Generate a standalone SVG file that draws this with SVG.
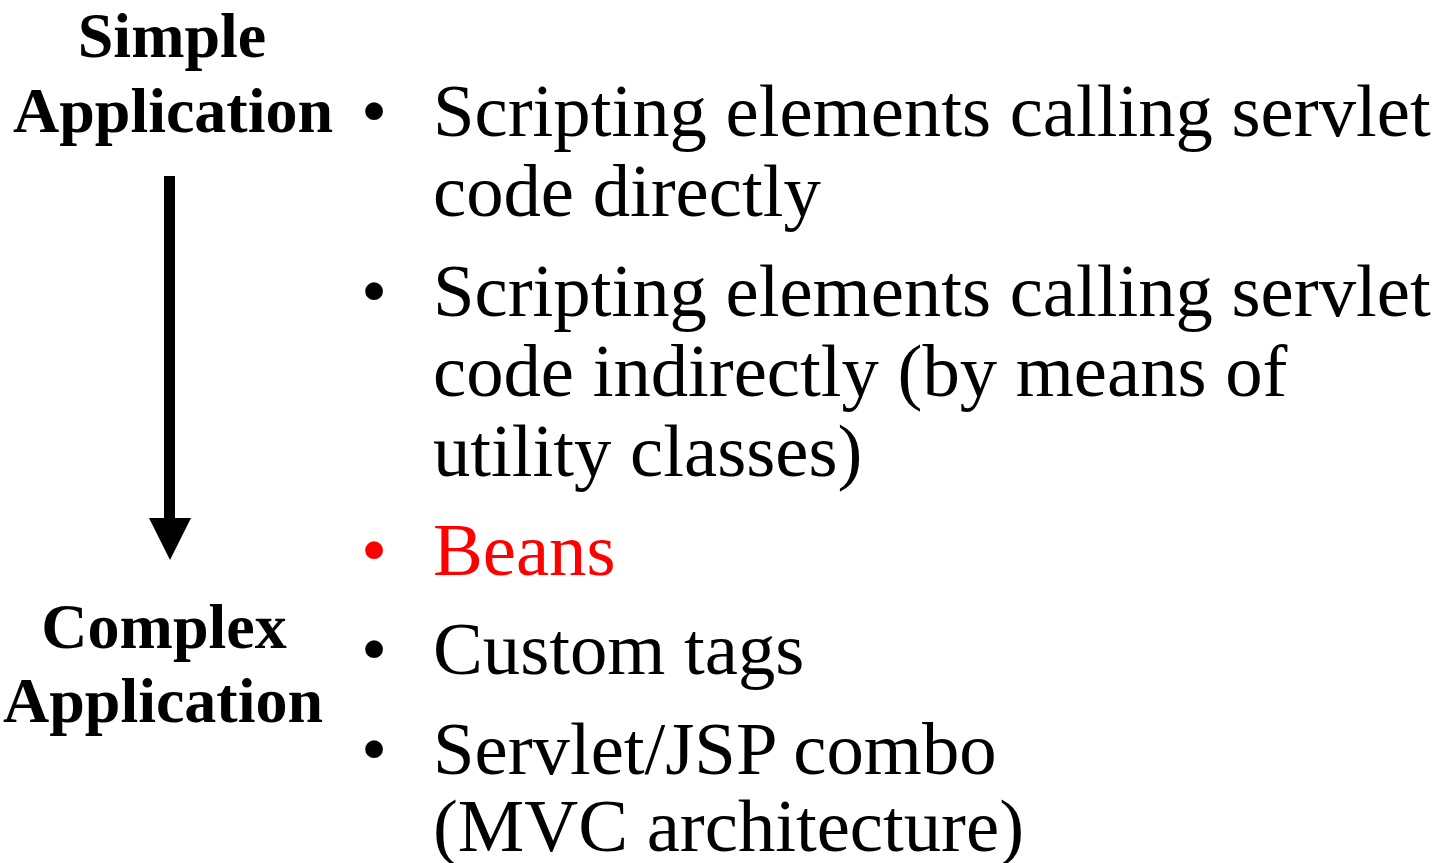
<svg xmlns="http://www.w3.org/2000/svg" width="1439" height="863" viewBox="0 0 1439 863">
<style>
.lbl{font-family:"Liberation Serif","Times New Roman",serif;font-weight:bold;font-size:64px;fill:#000;text-anchor:middle}
.item{font-family:"Liberation Serif","Times New Roman",serif;font-size:74.7px;fill:#000}
.red{fill:#FF0000}
</style>
<rect width="1439" height="863" fill="#fff"/>
<g id="simple">
<text class="lbl" x="172" y="57">Simple</text>
<text class="lbl" x="173" y="132">Application</text>
</g>
<g id="complex">
<text class="lbl" x="164" y="648">Complex</text>
<text class="lbl" x="163" y="722">Application</text>
</g>
<g id="connectors">
<rect x="164" y="176" width="11" height="344" fill="#000"/>
<polygon points="149,518 191,518 170,560" fill="#000"/>
</g>
<g id="item1">
<text class="item" x="361" y="136">•</text>
<text class="item" x="433" y="136">Scripting elements calling servlet</text>
<text class="item" x="433" y="216">code directly</text>
</g>
<g id="item2">
<text class="item" x="361" y="316">•</text>
<text class="item" x="433" y="316">Scripting elements calling servlet</text>
<text class="item" x="433" y="396">code indirectly (by means of</text>
<text class="item" x="433" y="476">utility classes)</text>
</g>
<g id="item3">
<text class="item red" x="361" y="575">•</text>
<text class="item red" x="433" y="575">Beans</text>
</g>
<g id="item4">
<text class="item" x="361" y="674">•</text>
<text class="item" x="433" y="674">Custom tags</text>
</g>
<g id="item5">
<text class="item" x="361" y="774">•</text>
<text class="item" x="433" y="774">Servlet/JSP combo</text>
<text class="item" x="433" y="851">(MVC architecture)</text>
</g>
</svg>
